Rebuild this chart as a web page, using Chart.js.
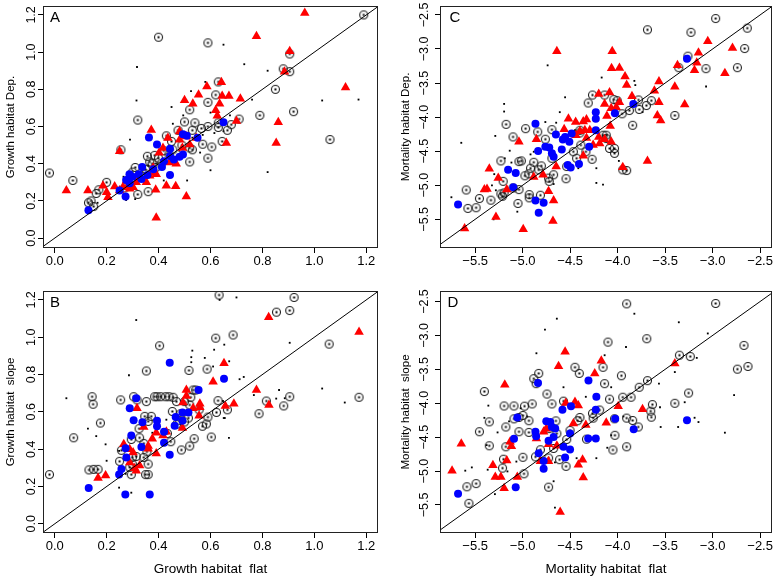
<!DOCTYPE html>
<html>
<head>
<meta charset="utf-8">
<script src="https://cdn.jsdelivr.net/npm/chart.js@4.4.1/dist/chart.umd.min.js"></script>
<style>
  body { margin: 0; background: #fff; }
  #wrap { position: relative; width: 778px; height: 577px; }
  canvas { position: absolute; }
</style>
</head>
<body>
<div id="wrap">
  <canvas id="panelA" width="389" height="285" style="left:0;top:0"></canvas>
  <canvas id="panelC" width="389" height="285" style="left:389px;top:0"></canvas>
  <canvas id="panelB" width="389" height="292" style="left:0;top:285px"></canvas>
  <canvas id="panelD" width="389" height="292" style="left:389px;top:285px"></canvas>
</div>
<script>
// ---- tick values ----
const growthTicks = [0.0, 0.2, 0.4, 0.6, 0.8, 1.0, 1.2];
const mortTicks = [-5.5, -5.0, -4.5, -4.0, -3.5, -3.0, -2.5];

// ---- A: growth flat (x) vs growth Dep. (y) ----
const growthDepRing = [[-0.02,0.35],[0.07,0.31],[0.40,1.08],[0.59,1.05],[1.19,1.20],[0.905,0.99],[0.905,0.895],[0.88,0.91],[0.63,0.84],[0.62,0.77],[0.85,0.80],[0.59,0.73],[0.92,0.68],[0.79,0.66],[1.06,0.53],[0.32,0.635],[0.52,0.69],[0.50,0.625],[0.54,0.62],[0.53,0.58],[0.565,0.59],[0.59,0.60],[0.63,0.62],[0.63,0.595],[0.71,0.64],[0.68,0.61],[0.665,0.58],[0.645,0.52],[0.605,0.49],[0.59,0.43],[0.52,0.41],[0.57,0.505],[0.53,0.475],[0.52,0.485],[0.475,0.58],[0.43,0.55],[0.45,0.52],[0.42,0.47],[0.385,0.445],[0.357,0.44],[0.375,0.40],[0.31,0.38],[0.35,0.37],[0.255,0.475],[0.36,0.25],[0.32,0.235],[0.20,0.30],[0.17,0.26],[0.16,0.24],[0.14,0.20],[0.13,0.19],[0.15,0.17],[0.295,0.30],[0.27,0.27],[0.35,0.345],[0.39,0.38],[0.40,0.43],[0.455,0.475],[0.49,0.50],[0.366,0.41],[0.30,0.355],[0.335,0.33],[0.41,0.40],[0.44,0.45]];
const growthDepDot = [[0.317,0.92],[0.65,1.04],[0.73,0.935],[0.82,0.90],[1.03,0.74],[1.17,0.745],[0.76,0.745],[0.315,0.74],[0.525,0.79],[0.45,0.705],[0.58,0.84],[0.60,0.675],[0.675,0.66],[0.60,0.365],[0.82,0.355],[0.51,0.31],[0.29,0.53],[0.455,0.615],[0.495,0.66],[0.56,0.46],[0.275,0.205],[0.31,0.21],[0.165,0.19],[0.265,0.33],[0.42,0.31],[0.57,0.555],[0.615,0.565],[0.65,0.575],[0.33,0.37],[0.36,0.39],[0.38,0.36],[0.25,0.27],[0.44,0.43],[0.53,0.54],[0.48,0.47]];
const growthDepTri = [[0.963,1.21],[0.777,1.085],[0.905,1.005],[0.885,0.895],[1.12,0.81],[0.642,0.838],[0.586,0.815],[0.554,0.771],[0.645,0.764],[0.671,0.764],[0.715,0.75],[0.50,0.741],[0.532,0.723],[0.635,0.723],[0.62,0.688],[0.626,0.658],[0.70,0.63],[0.861,0.623],[0.853,0.512],[0.661,0.512],[0.372,0.582],[0.25,0.467],[0.417,0.485],[0.481,0.529],[0.492,0.485],[0.443,0.406],[0.402,0.459],[0.468,0.40],[0.43,0.282],[0.466,0.279],[0.507,0.224],[0.389,0.26],[0.391,0.11],[0.045,0.256],[0.128,0.256],[0.186,0.282],[0.20,0.247],[0.205,0.22],[0.231,0.277],[0.25,0.256],[0.276,0.309],[0.282,0.282],[0.302,0.273],[0.314,0.30],[0.327,0.326],[0.353,0.30],[0.366,0.335],[0.385,0.353],[0.391,0.344],[0.379,0.379],[0.289,0.265],[0.263,0.273],[0.481,0.573],[0.507,0.547],[0.545,0.538],[0.52,0.503],[0.436,0.538]];
const growthDepBlue = [[0.13,0.15],[0.273,0.224],[0.363,0.541],[0.394,0.503],[0.444,0.481],[0.494,0.559],[0.509,0.55],[0.444,0.441],[0.481,0.437],[0.459,0.423],[0.494,0.45],[0.413,0.383],[0.444,0.34],[0.337,0.383],[0.324,0.344],[0.288,0.344],[0.275,0.312],[0.421,0.414],[0.65,0.623],[0.357,0.34],[0.38,0.37],[0.334,0.318],[0.289,0.295],[0.25,0.256],[0.55,0.54],[0.30,0.33]];

// ---- B: growth flat (x) vs growth slope (y) ----
const growthSlopeRing = [[-0.02,0.264],[0.073,0.461],[0.144,0.681],[0.148,0.641],[0.176,0.54],[0.132,0.289],[0.15,0.292],[0.167,0.292],[0.254,0.664],[0.25,0.335],[0.257,0.394],[0.295,0.264],[0.304,0.681],[0.317,0.664],[0.353,0.819],[0.353,0.655],[0.404,0.954],[0.385,0.681],[0.394,0.681],[0.408,0.681],[0.427,0.681],[0.44,0.681],[0.456,0.678],[0.469,0.655],[0.453,0.602],[0.485,0.59],[0.50,0.655],[0.52,0.637],[0.524,0.678],[0.533,0.717],[0.543,0.717],[0.517,0.822],[0.587,0.829],[0.62,0.995],[0.687,1.012],[0.633,1.226],[0.922,1.213],[0.905,1.143],[0.854,1.134],[1.057,0.963],[1.172,0.678],[0.905,0.681],[0.882,0.632],[0.815,0.658],[0.787,0.59],[0.665,0.611],[0.629,0.66],[0.623,0.597],[0.59,0.572],[0.584,0.535],[0.569,0.523],[0.603,0.465],[0.537,0.456],[0.52,0.417],[0.488,0.396],[0.447,0.44],[0.434,0.484],[0.347,0.576],[0.372,0.576],[0.36,0.549],[0.325,0.51],[0.327,0.461],[0.343,0.431],[0.355,0.386],[0.343,0.356],[0.36,0.32],[0.35,0.264],[0.36,0.264],[0.299,0.356],[0.299,0.32],[0.314,0.361],[0.295,0.452],[0.289,0.303],[0.469,0.532],[0.481,0.555],[0.50,0.546],[0.556,0.611],[0.515,0.567]];
const growthSlopeDot = [[0.045,0.673],[0.128,0.51],[0.314,1.092],[0.635,1.2],[0.70,1.213],[0.905,0.97],[1.03,0.725],[1.117,0.65],[0.53,0.928],[0.526,0.893],[0.578,0.889],[0.614,0.933],[0.653,0.96],[0.672,0.871],[0.61,0.843],[0.526,0.866],[0.286,0.796],[0.248,0.391],[0.196,0.426],[0.16,0.47],[0.20,0.338],[0.248,0.194],[0.295,0.167],[0.273,0.268],[0.655,0.567],[0.648,0.658],[0.712,0.775],[0.728,0.787],[0.767,0.69],[0.864,0.717],[0.853,0.671],[0.886,0.673],[0.671,0.461],[0.651,0.567],[0.376,0.488],[0.456,0.567],[0.43,0.558]];
const growthSlopeTri = [[0.824,1.107],[1.172,1.028],[0.652,0.861],[0.61,0.761],[0.507,0.717],[0.507,0.685],[0.494,0.65],[0.533,0.62],[0.559,0.643],[0.559,0.625],[0.556,0.579],[0.657,0.632],[0.69,0.643],[0.777,0.717],[0.825,0.637],[0.317,0.62],[0.343,0.519],[0.492,0.514],[0.391,0.488],[0.376,0.456],[0.417,0.474],[0.43,0.493],[0.36,0.417],[0.36,0.403],[0.391,0.377],[0.266,0.426],[0.289,0.40],[0.289,0.329],[0.302,0.382],[0.308,0.298],[0.314,0.285],[0.327,0.312],[0.167,0.245],[0.196,0.259]];
const growthSlopeBlue = [[0.131,0.192],[0.272,0.157],[0.366,0.157],[0.443,0.863],[0.652,0.778],[0.554,0.717],[0.314,0.673],[0.289,0.62],[0.304,0.555],[0.394,0.553],[0.394,0.523],[0.338,0.544],[0.515,0.597],[0.492,0.597],[0.492,0.553],[0.462,0.526],[0.466,0.572],[0.421,0.493],[0.421,0.435],[0.443,0.37],[0.334,0.412],[0.295,0.474],[0.273,0.405],[0.276,0.356],[0.257,0.294],[0.248,0.264]];

// ---- C: mortality flat (x) vs mortality Dep. (y) ----
const mortDepRing = [[-3.686,-2.718],[-2.968,-2.553],[-3.228,-2.756],[-2.635,-2.694],[-2.663,-2.993],[-2.739,-3.274],[-3.07,-3.289],[-3.26,-3.105],[-3.356,-3.274],[-3.398,-3.976],[-3.645,-3.758],[-3.697,-3.83],[-3.78,-3.748],[-3.773,-3.888],[-3.842,-4.12],[-3.953,-3.951],[-3.877,-3.903],[-4.04,-3.743],[-4.005,-3.758],[-4.137,-3.676],[-4.31,-3.792],[-4.265,-3.676],[-4.397,-4.193],[-4.397,-4.232],[-4.12,-4.266],[-4.085,-4.46],[-4.033,-4.46],[-4.033,-4.532],[-3.946,-4.774],[-3.905,-4.784],[-4.269,-4.619],[-4.334,-4.508],[-4.387,-4.411],[-4.466,-4.508],[-4.432,-4.604],[-4.536,-4.725],[-4.543,-4.904],[-4.692,-4.184],[-4.761,-4.324],[-4.692,-4.604],[-4.674,-4.846],[-4.727,-4.895],[-4.72,-4.943],[-4.803,-4.716],[-4.831,-4.774],[-4.883,-4.663],[-4.917,-4.75],[-4.935,-4.832],[-4.976,-4.861],[-4.841,-4.217],[-4.969,-4.169],[-5.101,-4.29],[-5.174,-4.106],[-5.014,-4.643],[-5.039,-4.653],[-5.101,-5.04],[-5.049,-5.267],[-4.931,-5.137],[-4.931,-5.185],[-4.813,-5.146],[-5.195,-5.112],[-5.212,-5.161],[-5.229,-5.127],[-5.229,-4.643],[-5.205,-4.943],[-5.039,-5.064],[-5.334,-5.219],[-5.455,-5.195],[-5.49,-5.33],[-5.576,-5.34],[-5.594,-5.069],[-4.154,-4.266],[-4.12,-4.314]];
const mortDepDot = [[-4.737,-3.24],[-4.168,-3.419],[-3.824,-3.468],[-3.814,-3.53],[-3.069,-3.55],[-4.553,-3.709],[-5.195,-3.806],[-5.195,-3.918],[-5.288,-4.276],[-5.646,-4.377],[-5.136,-4.493],[-5.188,-4.605],[-5.118,-4.667],[-4.917,-4.547],[-4.883,-4.508],[-4.761,-4.072],[-4.647,-4.082],[-4.609,-3.927],[-4.224,-4.966],[-4.154,-4.99],[-4.224,-4.75],[-3.987,-4.643],[-4.674,-4.982],[-5.299,-4.837],[-5.282,-5.074],[-5.323,-5.001],[-5.75,-5.176],[-5.306,-5.5],[-5.056,-5.388],[-4.508,-4.701],[-4.414,-4.75],[-3.738,-3.927],[-4.449,-4.193]];
const mortDepTri = [[-4.057,-3.032],[-4.64,-3.032],[-3.051,-2.887],[-3.149,-3.056],[-2.791,-2.984],[-2.871,-3.356],[-3.167,-3.202],[-3.191,-3.313],[-3.37,-3.24],[-3.398,-3.555],[-3.565,-3.477],[-3.613,-3.613],[-3.565,-3.782],[-3.582,-3.976],[-3.547,-4.048],[-3.294,-3.816],[-3.686,-4.643],[-4.064,-3.284],[-3.981,-3.279],[-3.922,-3.405],[-3.905,-3.53],[-4.085,-3.637],[-3.849,-3.695],[-3.981,-3.782],[-4.015,-3.855],[-4.137,-3.806],[-4.113,-3.985],[-4.068,-3.869],[-4.199,-3.661],[-4.328,-4.034],[-4.362,-4.063],[-4.442,-4.072],[-4.518,-4.024],[-4.078,-4.131],[-4.345,-4.193],[-4.293,-4.193],[-4.397,-4.208],[-4.439,-4.266],[-4.328,-4.305],[-4.199,-4.29],[-4.189,-4.387],[-4.258,-4.411],[-4.137,-4.324],[-4.068,-4.363],[-4.362,-4.566],[-4.563,-4.179],[-4.855,-4.324],[-5.039,-4.363],[-4.647,-4.725],[-4.883,-4.88],[-4.785,-4.846],[-4.727,-5.088],[-4.674,-5.224],[-4.681,-5.524],[-4.994,-5.645],[-5.281,-5.466],[-5.611,-5.635],[-5.375,-5.054],[-5.403,-5.064],[-5.167,-5.064],[-5.257,-4.895],[-5.351,-4.759],[-3.946,-4.735]];
const mortDepBlue = [[-3.27,-3.144],[-3.835,-3.806],[-4.029,-3.942],[-4.23,-3.927],[-4.23,-4.024],[-4.23,-4.193],[-4.3,-4.435],[-4.407,-4.687],[-4.494,-4.74],[-4.525,-4.701],[-4.484,-4.242],[-4.508,-4.363],[-4.553,-4.29],[-4.577,-4.329],[-4.588,-4.474],[-4.65,-4.256],[-4.692,-4.532],[-4.674,-4.581],[-4.72,-4.445],[-4.761,-4.435],[-4.837,-4.498],[-4.865,-4.097],[-5.073,-4.822],[-5.153,-4.774],[-5.098,-5.03],[-4.865,-5.224],[-4.779,-5.258],[-4.831,-5.403],[-5.68,-5.282]];

// ---- D: mortality flat (x) vs mortality slope (y) ----
const mortSlopeRing = [[-3.905,-2.534],[-2.968,-2.529],[-4.102,-3.098],[-3.693,-3.049],[-2.67,-3.147],[-3.35,-3.292],[-3.235,-3.311],[-2.739,-3.497],[-2.628,-3.458],[-3.253,-3.849],[-3.398,-4.0],[-3.634,-4.02],[-3.652,-4.117],[-3.645,-4.205],[-3.686,-3.667],[-3.773,-3.765],[-3.859,-3.911],[-3.946,-3.911],[-3.96,-3.594],[-3.905,-4.219],[-3.842,-4.254],[-3.783,-4.35],[-4.033,-4.229],[-4.029,-4.472],[-4.05,-4.689],[-3.905,-4.642],[-4.137,-3.711],[-4.154,-3.47],[-4.085,-3.94],[-4.189,-4.1],[-4.265,-4.15],[-4.258,-4.219],[-4.328,-4.529],[-4.404,-3.56],[-4.449,-3.47],[-4.57,-3.969],[-4.397,-4.21],[-4.421,-4.258],[-4.501,-4.4],[-4.692,-4.01],[-4.744,-3.864],[-4.65,-4.26],[-4.64,-4.447],[-4.536,-4.534],[-4.543,-4.93],[-4.72,-4.374],[-4.674,-4.667],[-4.727,-4.808],[-4.612,-4.832],[-4.727,-5.237],[-4.813,-4.686],[-4.865,-4.79],[-4.831,-3.56],[-4.858,-3.711],[-4.883,-3.637],[-4.9,-4.01],[-4.98,-4.043],[-4.997,-4.18],[-4.934,-4.258],[-4.934,-4.43],[-5.039,-4.21],[-5.091,-4.04],[-5.091,-4.23],[-5.039,-4.42],[-4.997,-4.797],[-4.986,-5.04],[-5.195,-4.04],[-5.177,-4.35],[-5.177,-4.642],[-5.202,-4.825],[-5.212,-4.956],[-5.351,-4.274],[-5.351,-4.627],[-5.455,-4.42],[-5.403,-3.827],[-5.49,-5.185],[-5.587,-5.232],[-5.566,-5.476]];
const mortSlopeDot = [[-4.64,-2.753],[-3.824,-2.68],[-4.765,-2.914],[-3.356,-2.806],[-3.051,-2.971],[-3.912,-3.171],[-4.855,-3.263],[-4.137,-3.292],[-3.167,-3.331],[-3.398,-3.54],[-2.774,-3.88],[-3.294,-3.985],[-4.57,-3.764],[-4.335,-3.905],[-4.068,-3.764],[-3.565,-3.711],[-3.554,-4.059],[-3.547,-4.35],[-3.363,-4.35],[-3.149,-4.277],[-3.19,-4.214],[-2.871,-4.434],[-3.939,-4.195],[-4.068,-4.472],[-4.109,-4.656],[-4.224,-4.81],[-4.432,-4.81],[-4.66,-4.871],[-4.674,-5.15],[-4.66,-5.538],[-5.292,-5.34],[-5.368,-4.98],[-5.379,-4.617],[-5.264,-4.43],[-5.403,-4.215],[-5.361,-4.035],[-4.952,-4.195],[-5.021,-4.074],[-5.143,-4.267],[-5.604,-4.994],[-5.535,-4.946],[-5.066,-4.86],[-5.16,-5.005]];
const mortSlopeTri = [[-4.553,-3.239],[-4.622,-3.456],[-4.172,-3.374],[-4.241,-3.56],[-5.188,-3.728],[-3.398,-3.413],[-3.738,-4.088],[-3.994,-4.043],[-4.12,-4.287],[-4.449,-3.982],[-4.546,-3.997],[-4.414,-4.035],[-4.466,-4.297],[-4.335,-4.321],[-5.646,-4.598],[-5.743,-4.994],[-5.313,-4.915],[-5.288,-5.088],[-5.229,-5.088],[-5.195,-5.252],[-5.167,-4.845],[-5.132,-4.569],[-5.118,-4.633],[-5.056,-5.088],[-4.855,-4.52],[-4.779,-4.42],[-4.751,-4.377],[-4.727,-4.604],[-4.813,-4.855],[-4.727,-4.855],[-4.64,-4.628],[-4.414,-4.907],[-4.369,-4.832],[-4.362,-5.093],[-4.605,-5.604]];
const mortSlopeBlue = [[-4.307,-3.665],[-4.838,-3.702],[-4.491,-4.045],[-4.224,-3.905],[-4.23,-4.096],[-4.581,-4.096],[-5.056,-4.21],[-4.751,-4.266],[-4.709,-4.277],[-4.692,-4.35],[-4.657,-4.374],[-4.674,-4.497],[-4.727,-4.552],[-4.865,-4.42],[-4.858,-4.486],[-4.831,-4.739],[-4.779,-4.85],[-4.779,-4.967],[-5.091,-4.523],[-4.501,-4.447],[-4.501,-4.682],[-4.57,-4.642],[-4.553,-4.8],[-4.31,-4.52],[-4.23,-4.52],[-4.026,-4.23],[-3.831,-4.384],[-3.27,-4.252],[-5.073,-5.237],[-5.68,-5.335]];

const FONT = '"Liberation Sans", Arial, Helvetica, sans-serif';
const pts = arr => arr.map(([x, y]) => ({ x, y }));
const fmt = v => (Math.abs(v) < 1e-9 ? 0 : v).toFixed(1).replace('-', '\u2212');

// circle with a dot in the middle, like R's pch 10-ish marker
function ringMarker() {
  const c = document.createElement('canvas');
  c.width = 11; c.height = 11;
  const g = c.getContext('2d');
  g.strokeStyle = '#1a1a1a';
  g.lineWidth = 1.1;
  g.beginPath();
  g.arc(5.5, 5.5, 4, 0, Math.PI * 2);
  g.stroke();
  g.fillStyle = '#000';
  g.fillRect(4.5, 4.5, 2, 2);
  return c;
}
const ring = ringMarker();

// box around plot area + panel letter
const framePlugin = {
  id: 'frame',
  afterDraw(chart, args, opts) {
    const { ctx, chartArea: a } = chart;
    ctx.save();
    ctx.strokeStyle = '#222';
    ctx.lineWidth = 1;
    ctx.strokeRect(a.left + 0.5, a.top + 0.5, a.right - a.left - 1, a.bottom - a.top - 1);
    ctx.fillStyle = '#000';
    ctx.font = '15px ' + FONT;
    ctx.textAlign = 'center';
    ctx.textBaseline = 'middle';
    ctx.fillText(opts.letter, a.left + opts.dx, a.top + 12);
    ctx.restore();
  }
};

function makePanel(id, cfg) {
  const lo = cfg.diag[0], hi = cfg.diag[1];
  new Chart(document.getElementById(id), {
    type: 'scatter',
    data: {
      datasets: [
        { type: 'line', data: [{ x: lo, y: lo }, { x: hi, y: hi }], borderColor: '#000', borderWidth: 1, pointRadius: 0, fill: false },
        { data: pts(cfg.blue), pointStyle: 'circle', pointRadius: 4, backgroundColor: '#0000ff', borderWidth: 0 },
        { data: pts(cfg.tri), pointStyle: 'triangle', pointRadius: 5.5, backgroundColor: '#ff0000', borderWidth: 0 },
        { data: pts(cfg.ring), pointStyle: ring, pointRadius: 5 },
        { data: pts(cfg.dot), pointStyle: 'rect', pointRadius: 1.3, backgroundColor: '#000', borderWidth: 0 },
      ]
    },
    options: {
      responsive: false,
      animation: false,
      events: [],
      layout: { padding: { top: 3, right: cfg.padRight, left: 0, bottom: 0 } },
      plugins: {
        legend: { display: false },
        tooltip: { enabled: false },
        frame: { letter: cfg.letter, dx: cfg.letterDx }
      },
      scales: {
        x: {
          type: 'linear', min: cfg.xr[0], max: cfg.xr[1],
          afterFit: s => { s.height = cfg.xAxisHeight; s.paddingLeft = 0; s.paddingRight = 0; },
          afterBuildTicks: s => { s.ticks = cfg.ticks.map(v => ({ value: v })); },
          grid: { display: true, drawOnChartArea: false, drawTicks: true, tickLength: 5, tickColor: '#000' },
          border: { display: false },
          ticks: { autoSkip: false, maxRotation: 0, padding: 1, color: '#000', font: { family: FONT, size: 13 }, callback: fmt },
          title: { display: !!cfg.xTitle, text: cfg.xTitle, color: '#000', font: { family: FONT, size: 13.5 }, padding: { top: 0, bottom: 0 } }
        },
        y: {
          type: 'linear', min: cfg.yr[0], max: cfg.yr[1],
          afterFit: s => { s.width = cfg.yAxisWidth; s.paddingTop = 0; s.paddingBottom = 0; },
          afterBuildTicks: s => { s.ticks = cfg.ticks.map(v => ({ value: v })); },
          grid: { display: true, drawOnChartArea: false, drawTicks: true, tickLength: 5, tickColor: '#000' },
          border: { display: false },
          ticks: { autoSkip: false, minRotation: 90, maxRotation: 90, crossAlign: 'center', padding: -2, color: '#000', font: { family: FONT, size: 12.5 }, callback: fmt },
          title: { display: true, text: cfg.yTitle, color: '#000', font: { family: FONT, size: 11.5 }, padding: { top: cfg.yTitlePad, bottom: 0 } }
        }
      }
    },
    plugins: [framePlugin]
  });
}

makePanel('panelA', {
  letter: 'A', letterDx: 12, ticks: growthTicks, diag: [-0.2, 1.4],
  xr: [-0.045, 1.245], yr: [-0.053, 1.248],
  ring: growthDepRing, dot: growthDepDot, tri: growthDepTri, blue: growthDepBlue,
  yTitle: 'Growth habitat Dep.', xTitle: '', yAxisWidth: 43, xAxisHeight: 37, padRight: 11, yTitlePad: 4
});
makePanel('panelB', {
  letter: 'B', letterDx: 12, ticks: growthTicks, diag: [-0.2, 1.4],
  xr: [-0.045, 1.245], yr: [-0.049, 1.2475],
  ring: growthSlopeRing, dot: growthSlopeDot, tri: growthSlopeTri, blue: growthSlopeBlue,
  yTitle: 'Growth habitat  slope', xTitle: 'Growth habitat  flat', yAxisWidth: 43, xAxisHeight: 44, padRight: 11, yTitlePad: 4
});
makePanel('panelC', {
  letter: 'C', letterDx: 15, ticks: mortTicks, diag: [-6.2, -2.0],
  xr: [-5.87, -2.375], yr: [-5.921, -2.369],
  ring: mortDepRing, dot: mortDepDot, tri: mortDepTri, blue: mortDepBlue,
  yTitle: 'Mortality habitat Dep.', xTitle: '', yAxisWidth: 51, xAxisHeight: 37, padRight: 2, yTitlePad: 10
});
makePanel('panelD', {
  letter: 'D', letterDx: 13, ticks: mortTicks, diag: [-6.2, -2.0],
  xr: [-5.87, -2.375], yr: [-5.913, -2.345],
  ring: mortSlopeRing, dot: mortSlopeDot, tri: mortSlopeTri, blue: mortSlopeBlue,
  yTitle: 'Mortality habitat  slope', xTitle: 'Mortality habitat  flat', yAxisWidth: 51, xAxisHeight: 44, padRight: 2, yTitlePad: 10
});
</script>
</body>
</html>
